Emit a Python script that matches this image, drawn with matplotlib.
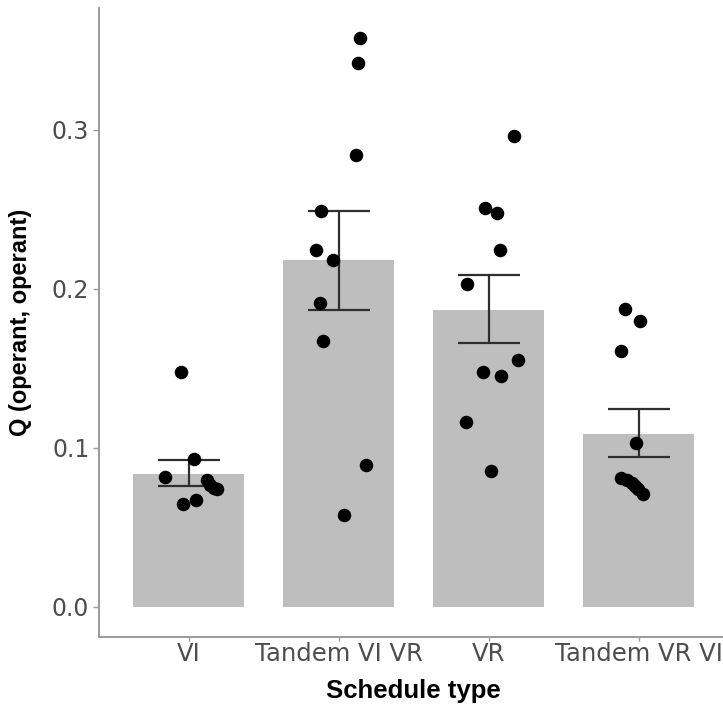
import matplotlib
matplotlib.use("Agg")
import matplotlib.pyplot as plt
import numpy as np

# schedule types, bar means and error-bar limits
categories = ["VI", "Tandem VI VR", "VR", "Tandem VR VI"]
means = [0.0836, 0.218, 0.187, 0.109]
err_low = [0.076, 0.187, 0.166, 0.094]
err_high = [0.0925, 0.249, 0.209, 0.1245]

# individual subjects (value, jitter offset in category units)
pts_vi = [0.148, 0.093, 0.082, 0.080, 0.077, 0.075, 0.074, 0.067, 0.065]
jit_vi = [-0.056, 0.036, -0.161, 0.12, 0.14, 0.166, 0.19, 0.045, -0.042]
pts_tvivr = [0.358, 0.342, 0.284, 0.249, 0.2245, 0.218, 0.191, 0.1675, 0.089, 0.058]
jit_tvivr = [0.143, 0.13, 0.114, -0.116, -0.153, -0.04, -0.123, -0.108, 0.181, 0.038]
pts_vr = [0.2964, 0.251, 0.248, 0.2245, 0.203, 0.1553, 0.148, 0.1455, 0.1164, 0.0855]
jit_vr = [0.168, -0.022, 0.056, 0.074, -0.146, 0.197, -0.038, 0.083, -0.153, 0.018]
pts_tvrvi = [0.1874, 0.180, 0.161, 0.103, 0.081, 0.080, 0.078, 0.076, 0.074, 0.071]
jit_tvrvi = [-0.089, 0.011, -0.116, -0.02, -0.114, -0.08, -0.047, -0.027, -0.007, 0.027]

points = [pts_vi, pts_tvivr, pts_vr, pts_tvrvi]
jitter = [jit_vi, jit_tvivr, jit_vr, jit_tvrvi]

fig = plt.figure(figsize=(7.23, 7.10), dpi=100)
ax = fig.add_axes([0.1369, 0.1035, 0.8707, 0.8852])

x = np.arange(len(categories))
ax.bar(x, means, width=0.74, color="#bebebe", zorder=1)

lo = np.array(means) - np.array(err_low)
hi = np.array(err_high) - np.array(means)
ax.errorbar(x, means, yerr=[lo, hi], fmt="none", ecolor="#2e2e2e",
            elinewidth=1.6, capsize=22, capthick=1.6, zorder=2)

for i, (vals, off) in enumerate(zip(points, jitter)):
    ax.scatter(i + np.array(off), vals, s=95, color="black", zorder=3,
               linewidths=0)

ax.set_xlim(-0.6, 3.6)
ax.set_ylim(-0.0186, 0.3767)
ax.set_yticks([0.0, 0.1, 0.2, 0.3])
ax.set_yticklabels(["0.0", "0.1", "0.2", "0.3"])
ax.set_xticks(x, categories)

for side in ("top", "right"):
    ax.spines[side].set_visible(False)
for side in ("left", "bottom"):
    ax.spines[side].set_color("#9a9a9a")
    ax.spines[side].set_linewidth(1.4)

ax.tick_params(axis="y", length=4, width=1, color="#9a9a9a",
               labelsize=17, labelcolor="#4d4d4d", pad=3)
ax.tick_params(axis="x", length=3, width=1, color="#9a9a9a",
               labelsize=17.5, labelcolor="#4d4d4d", pad=1)

ax.set_xlabel("Schedule type", fontsize=18.5, fontweight="bold",
              family="Liberation Sans", labelpad=9)
ax.set_ylabel("Q (operant, operant)", fontsize=17, fontweight="bold",
              family="Liberation Sans", labelpad=14)

fig.savefig("out.png", dpi=100)
